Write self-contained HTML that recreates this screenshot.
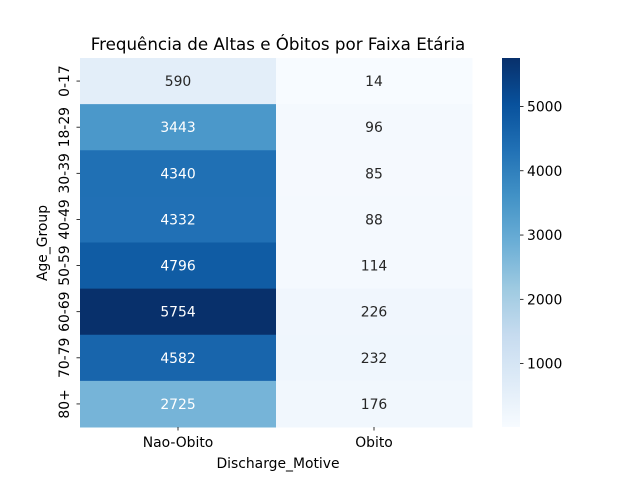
<!DOCTYPE html>
<html><head><meta charset="utf-8">
<style>
body{margin:0;background:#fff;}
svg text{font-family:"DejaVu Sans","Liberation Sans",sans-serif;}
</style></head>
<body>
<svg id="chart" width="640" height="480" xmlns="http://www.w3.org/2000/svg">
<defs>
<linearGradient id="cbGrad" x1="0" y1="1" x2="0" y2="0">
<stop offset="0" stop-color="#f7fbff"/><stop offset="0.125" stop-color="#deebf7"/>
<stop offset="0.25" stop-color="#c6dbef"/><stop offset="0.375" stop-color="#9ecae1"/>
<stop offset="0.5" stop-color="#6baed6"/><stop offset="0.625" stop-color="#4292c6"/>
<stop offset="0.75" stop-color="#2171b5"/><stop offset="0.875" stop-color="#08519c"/>
<stop offset="1" stop-color="#08306b"/>
</linearGradient>
</defs>
<text x="278" y="50" text-anchor="middle" font-size="16.7">Frequência de Altas e Óbitos por Faixa Etária</text>
<g id="cells"></g>
<g id="axes"></g>
<rect x="502" y="58" width="18" height="369" fill="url(#cbGrad)"/>
<g id="cbar"></g>
<text x="278" y="468" text-anchor="middle" font-size="13.9">Discharge_Motive</text>
<text transform="translate(47,243) rotate(-90)" text-anchor="middle" font-size="13.9">Age_Group</text>
</svg>
<script>
const rows = ["0-17","18-29","30-39","40-49","50-59","60-69","70-79","80+"];
const cols = ["Nao-Obito","Obito"];
const naoObito = [590,3443,4340,4332,4796,5754,4582,2725];
const obito = [14,96,85,88,114,226,232,176];
const cbTicks = [1000,2000,3000,4000,5000];

const series=[naoObito,obito];
const all=naoObito.concat(obito);
const vmin=Math.min(...all), vmax=Math.max(...all);
const X0=80,X1=472,Y0=58,Y1=427;
const cw=(X1-X0)/cols.length, rh=(Y1-Y0)/rows.length;
const stops=[[247,251,255],[222,235,247],[198,219,239],[158,202,225],[107,174,214],[66,146,198],[33,113,181],[8,81,156],[8,48,107]];
function cmap(v){let t=(v-vmin)/(vmax-vmin);t=Math.max(0,Math.min(1,t))*8;const i=Math.min(7,Math.floor(t)),f=t-i;
return stops[i].map((c,k)=>c+(stops[i+1][k]-c)*f);}
function lum(c){const l=c.map(x=>{x/=255;return x<=0.03928?x/12.92:Math.pow((x+0.055)/1.055,2.4)});return 0.2126*l[0]+0.7152*l[1]+0.0722*l[2];}
const NS="http://www.w3.org/2000/svg";
function mk(tag,attrs,parent){const e=document.createElementNS(NS,tag);for(const k in attrs)e.setAttribute(k,attrs[k]);parent.appendChild(e);return e;}
const cells=document.getElementById('cells'),axes=document.getElementById('axes'),cbar=document.getElementById('cbar');
series.forEach((s,j)=>{s.forEach((v,i)=>{
  const c=cmap(v);
  const r=mk('rect',{x:X0+j*cw,y:Y0+i*rh,width:cw+0.5,height:rh+0.5,fill:`rgb(${c.map(Math.round).join(',')})`},cells);
  
  
  const t=mk('text',{x:X0+(j+0.5)*cw,y:Y0+(i+0.5)*rh+5,'text-anchor':'middle','font-size':'13.9',fill:lum(c)>0.5?'#262626':'#ffffff'},cells);
  t.textContent=v;
  
  
});});
rows.forEach((r,i)=>{const y=Y0+(i+0.5)*rh;
  mk('line',{x1:X0-3.5,x2:X0,y1:y,y2:y,stroke:'#000','stroke-width':0.8},axes);
  const t=mk('text',{transform:`translate(${X0-11},${y}) rotate(-90)`,'text-anchor':'middle','font-size':'13.9'},axes);
  t.textContent=r;
  
  
});
cols.forEach((c,j)=>{const x=X0+(j+0.5)*cw;
  mk('line',{x1:x,x2:x,y1:Y1,y2:Y1+3.5,stroke:'#000','stroke-width':0.8},axes);
  const t=mk('text',{x:x,y:Y1+20,'text-anchor':'middle','font-size':'13.9'},axes);
  t.textContent=c;
  
  
});
cbTicks.forEach(v=>{const y=Y1-(v-vmin)/(vmax-vmin)*(Y1-Y0);
  mk('line',{x1:520,x2:523.5,y1:y,y2:y,stroke:'#000','stroke-width':0.8},cbar);
  const t=mk('text',{x:527,y:y+5,'font-size':'13.9'},cbar);
  t.textContent=v;
  
  
});
</script>
</body></html>
